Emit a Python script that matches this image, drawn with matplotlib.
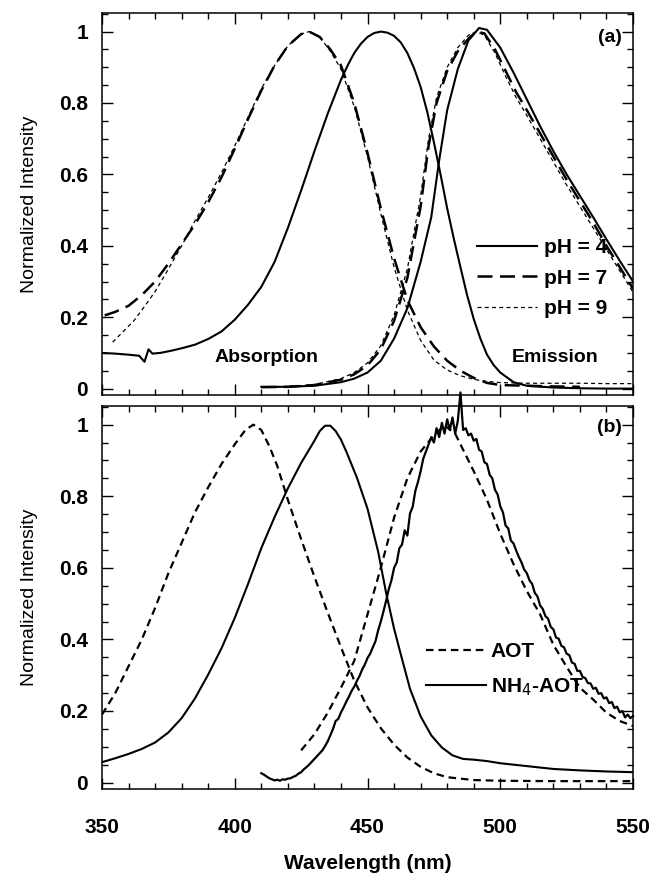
"""Normalized absorption / emission spectra in two stacked panels."""

from __future__ import annotations

import matplotlib

matplotlib.use("Agg")

import matplotlib.pyplot as plt
from matplotlib.ticker import FuncFormatter, MultipleLocator

# ---- panel (a): pH series -------------------------------------------------
ABS_PH4_WL = [350, 355, 360, 364, 366, 367.5, 369, 372, 376, 380, 385, 390, 395, 400,
              405, 410, 415, 420, 425, 430, 435, 440, 442.5, 445, 447.5, 450, 452.5,
              455, 457.5, 460, 462.5, 465, 467.5, 470, 472.5, 475, 477.5, 480, 482.5,
              485, 487.5, 490, 492.5, 495, 497.5, 500, 505, 510, 520, 530, 540, 550]
ABS_PH4 = [0.100, 0.098, 0.095, 0.092, 0.075, 0.110, 0.098, 0.100, 0.106, 0.113,
           0.123, 0.139, 0.160, 0.193, 0.235, 0.285, 0.355, 0.450, 0.555, 0.665,
           0.770, 0.865, 0.905, 0.940, 0.966, 0.985, 0.996, 1.000, 0.997, 0.988,
           0.970, 0.940, 0.898, 0.845, 0.775, 0.690, 0.600, 0.505, 0.420, 0.340,
           0.262, 0.195, 0.140, 0.095, 0.066, 0.045, 0.018, 0.008, 0.003, 0.001,
           0.000, 0.000]

ABS_PH7_WL = [351, 355, 360, 365, 370, 375, 380, 385, 390, 395, 400, 405, 410, 415,
              420, 425, 428, 432, 436, 440, 445, 450, 455, 460, 465, 470, 475, 480,
              485, 490, 495, 500, 510, 520, 530]
ABS_PH7 = [0.205, 0.215, 0.232, 0.262, 0.300, 0.350, 0.405, 0.460, 0.522, 0.592,
           0.672, 0.755, 0.835, 0.905, 0.960, 0.993, 1.000, 0.985, 0.950, 0.905,
           0.800, 0.660, 0.505, 0.365, 0.248, 0.172, 0.118, 0.078, 0.050, 0.030,
           0.016, 0.010, 0.008, 0.006, 0.005]

ABS_PH9_WL = [354, 358, 362, 366, 370, 375, 380, 385, 390, 395, 400, 405, 410, 415,
              420, 425, 428, 432, 436, 440, 445, 450, 455, 460, 465, 470, 475, 480,
              485, 490, 495, 500, 510, 520, 530, 540, 550]
ABS_PH9 = [0.130, 0.160, 0.190, 0.230, 0.272, 0.335, 0.400, 0.470, 0.535, 0.605,
           0.680, 0.760, 0.840, 0.905, 0.960, 0.993, 1.000, 0.985, 0.945, 0.895,
           0.790, 0.650, 0.490, 0.340, 0.220, 0.135, 0.080, 0.052, 0.036, 0.026,
           0.020, 0.017, 0.015, 0.015, 0.015, 0.014, 0.014]

EM_WL = [410, 420, 430, 440, 445, 450, 455, 460, 465, 470, 474, 477, 480, 484, 488,
         492, 495, 500, 505, 510, 515, 520, 525, 530, 535, 540, 545, 550]
EM_PH4 = [0.005, 0.005, 0.008, 0.018, 0.028, 0.045, 0.078, 0.140, 0.225, 0.355,
          0.480, 0.640, 0.780, 0.895, 0.975, 1.010, 1.005, 0.955, 0.885, 0.810,
          0.735, 0.665, 0.600, 0.540, 0.480, 0.418, 0.358, 0.300]

EM_WL_B = [410, 420, 430, 440, 445, 450, 455, 460, 465, 470, 473, 476, 480, 484, 488,
           491, 494, 498, 502, 506, 510, 515, 520, 525, 530, 535, 540, 545, 550]
EM_PH7 = [0.004, 0.005, 0.010, 0.025, 0.040, 0.065, 0.110, 0.190, 0.310, 0.510,
          0.680, 0.800, 0.890, 0.945, 0.980, 1.000, 0.995, 0.950, 0.890, 0.830,
          0.780, 0.715, 0.650, 0.585, 0.525, 0.465, 0.400, 0.340, 0.280]
EM_PH9 = [0.004, 0.006, 0.011, 0.028, 0.045, 0.072, 0.120, 0.205, 0.335, 0.540,
          0.700, 0.815, 0.900, 0.955, 0.990, 1.000, 0.990, 0.940, 0.875, 0.815,
          0.765, 0.700, 0.635, 0.570, 0.510, 0.450, 0.390, 0.330, 0.270]

# ---- panel (b): AOT vs NH4-AOT ---------------------------------------------
ABS_AOT_WL = [350, 355, 360, 365, 370, 375, 380, 385, 390, 395, 400, 404, 407, 410,
              413, 416, 420, 425, 430, 435, 440, 445, 450, 455, 460, 465, 470, 475,
              480, 490, 500, 520, 550]
ABS_AOT = [0.190, 0.250, 0.325, 0.400, 0.488, 0.585, 0.670, 0.755, 0.825, 0.890,
           0.945, 0.985, 1.000, 0.985, 0.940, 0.885, 0.790, 0.680, 0.575, 0.475,
           0.378, 0.285, 0.210, 0.152, 0.106, 0.070, 0.044, 0.026, 0.015, 0.007,
           0.005, 0.004, 0.004]

ABS_NH4_WL = [350, 355, 360, 365, 370, 375, 380, 385, 390, 395, 400, 405, 410, 415,
              420, 425, 430, 432, 434, 436, 438, 440, 442, 446, 450, 454, 457, 460,
              463, 466, 470, 474, 478, 482, 486, 490, 495, 500, 510, 520, 530, 540,
              550]
ABS_NH4 = [0.057, 0.068, 0.080, 0.094, 0.112, 0.140, 0.180, 0.235, 0.302, 0.375,
           0.460, 0.555, 0.655, 0.742, 0.822, 0.893, 0.955, 0.982, 0.997, 0.997,
           0.982, 0.958, 0.925, 0.852, 0.765, 0.645, 0.530, 0.430, 0.345, 0.262,
           0.185, 0.132, 0.098, 0.076, 0.066, 0.064, 0.060, 0.054, 0.046, 0.038,
           0.034, 0.031, 0.029]

EM_AOT_WL = [425, 430, 435, 440, 445, 450, 455, 460, 465, 470, 475, 479, 483, 486,
             490, 495, 500, 505, 510, 515, 520, 525, 530, 535, 540, 545, 550]
EM_AOT = [0.090, 0.135, 0.195, 0.265, 0.340, 0.470, 0.600, 0.740, 0.850, 0.925,
          0.970, 0.998, 0.975, 0.930, 0.870, 0.790, 0.695, 0.610, 0.535, 0.470,
          0.385, 0.323, 0.265, 0.232, 0.195, 0.172, 0.158]

# noisy emission trace, read at 1 nm steps (410 ... 550)
EM_NH4_WL = list(range(410, 551))
EM_NH4 = [0.026, 0.022, 0.017, 0.012, 0.009, 0.006, 0.008, 0.005, 0.009, 0.008,
          0.011, 0.012, 0.016, 0.019, 0.025, 0.029, 0.037, 0.043, 0.050, 0.058,
          0.066, 0.074, 0.082, 0.090, 0.102, 0.115, 0.132, 0.150, 0.172, 0.178,
          0.196, 0.210, 0.226, 0.240, 0.256, 0.268, 0.284, 0.298, 0.316, 0.330,
          0.348, 0.360, 0.378, 0.395, 0.425, 0.450, 0.478, 0.508, 0.540, 0.565,
          0.600, 0.615, 0.655, 0.665, 0.705, 0.690, 0.752, 0.770, 0.815, 0.840,
          0.870, 0.905, 0.925, 0.945, 0.965, 0.950, 0.990, 0.965, 1.005, 0.975,
          1.015, 0.985, 1.020, 0.975, 1.010, 1.090, 0.985, 0.990, 0.970, 0.975,
          0.955, 0.960, 0.930, 0.925, 0.895, 0.890, 0.860, 0.850, 0.818, 0.805,
          0.772, 0.755, 0.718, 0.710, 0.676, 0.668, 0.648, 0.630, 0.615, 0.595,
          0.585, 0.565, 0.555, 0.530, 0.520, 0.495, 0.485, 0.465, 0.458, 0.435,
          0.428, 0.405, 0.402, 0.382, 0.378, 0.360, 0.356, 0.335, 0.332, 0.312,
          0.312, 0.295, 0.292, 0.278, 0.277, 0.262, 0.265, 0.248, 0.250, 0.235,
          0.238, 0.222, 0.225, 0.208, 0.212, 0.196, 0.200, 0.182, 0.190, 0.180,
          0.186]

FONT = "Liberation Sans"
FS = 14

SOLID = dict(color="black", linewidth=1.5)
LONG_DASH = dict(color="black", linewidth=1.8, dashes=(6, 3))
SHORT_DASH = dict(color="black", linewidth=0.9, dashes=(3.2, 2.6))
AOT_DASH = dict(color="black", linewidth=1.6, dashes=(3.4, 2.2))


def style_axes(ax: plt.Axes, show_xlabels: bool) -> None:
    ax.set_xlim(350, 550)
    ax.set_ylim(-0.018, 1.052)
    ax.xaxis.set_major_locator(MultipleLocator(50))
    ax.xaxis.set_minor_locator(MultipleLocator(10))
    ax.yaxis.set_major_locator(MultipleLocator(0.2))
    ax.yaxis.set_minor_locator(MultipleLocator(0.05))
    ax.yaxis.set_major_formatter(FuncFormatter(lambda v, _: f"{v:g}"))
    ax.tick_params(which="both", direction="in", top=True, right=True, width=1.0)
    ax.tick_params(which="major", length=8)
    ax.tick_params(which="minor", length=4.5)
    ax.tick_params(axis="x", pad=21, labelbottom=show_xlabels)
    ax.tick_params(axis="y", pad=10)
    for label in ax.get_xticklabels() + ax.get_yticklabels():
        label.set_fontfamily(FONT)
        label.set_fontsize(FS + 1)
        label.set_fontweight("bold")
    for spine in ax.spines.values():
        spine.set_linewidth(1.1)
    ax.set_ylabel("Normalized Intensity", fontfamily=FONT, fontsize=FS, labelpad=15)


def draw_panel_a(ax: plt.Axes) -> None:
    ax.plot(ABS_PH4_WL, ABS_PH4, label="pH = 4", **SOLID)
    ax.plot(ABS_PH7_WL, ABS_PH7, label="pH = 7", **LONG_DASH)
    ax.plot(ABS_PH9_WL, ABS_PH9, label="pH = 9", **SHORT_DASH)
    ax.plot(EM_WL, EM_PH4, **SOLID)
    ax.plot(EM_WL_B, EM_PH7, **LONG_DASH)
    ax.plot(EM_WL_B, EM_PH9, **SHORT_DASH)
    style_axes(ax, show_xlabels=False)

    ax.legend(loc="upper left", bbox_to_anchor=(0.706, 0.41), frameon=False,
              prop=dict(family=FONT, size=FS + 1, weight="bold"),
              handlelength=2.9, handletextpad=0.3, labelspacing=0.54,
              borderpad=0, borderaxespad=0)
    ax.text(0.979, 0.935, "(a)", transform=ax.transAxes, ha="right", va="center",
            fontfamily=FONT, fontsize=FS, fontweight="bold")
    ax.text(0.309, 0.097, "Absorption", transform=ax.transAxes, ha="center",
            va="center", fontfamily=FONT, fontsize=FS, fontweight="bold")
    ax.text(0.853, 0.099, "Emission", transform=ax.transAxes, ha="center",
            va="center", fontfamily=FONT, fontsize=FS, fontweight="bold")


def draw_panel_b(ax: plt.Axes) -> None:
    ax.plot(ABS_AOT_WL, ABS_AOT, label="AOT", **AOT_DASH)
    ax.plot(ABS_NH4_WL, ABS_NH4, label="NH$_4$-AOT", **SOLID)
    ax.plot(EM_AOT_WL, EM_AOT, **AOT_DASH)
    # the noise spike near 485 nm pokes above the frame in the original
    ax.plot(EM_NH4_WL, EM_NH4, color="black", linewidth=1.6, clip_on=False)
    style_axes(ax, show_xlabels=True)

    ax.legend(loc="upper left", bbox_to_anchor=(0.61, 0.384), frameon=False,
              prop=dict(family=FONT, size=FS + 1, weight="bold"),
              handlelength=2.9, handletextpad=0.2, labelspacing=0.74,
              borderpad=0, borderaxespad=0)
    ax.text(0.979, 0.943, "(b)", transform=ax.transAxes, ha="right", va="center",
            fontfamily=FONT, fontsize=FS, fontweight="bold")
    ax.set_xlabel("Wavelength (nm)", fontfamily=FONT, fontsize=FS + 1,
                  fontweight="bold", labelpad=12)


def main() -> None:
    fig = plt.figure(figsize=(6.51, 8.80), dpi=100)
    ax_a = fig.add_axes([0.1567, 0.5511, 0.8157, 0.4341])
    ax_b = fig.add_axes([0.1567, 0.1034, 0.8157, 0.4352])
    draw_panel_a(ax_a)
    draw_panel_b(ax_b)
    fig.savefig("out.png", dpi=100)
    plt.close(fig)


if __name__ == "__main__":
    main()
